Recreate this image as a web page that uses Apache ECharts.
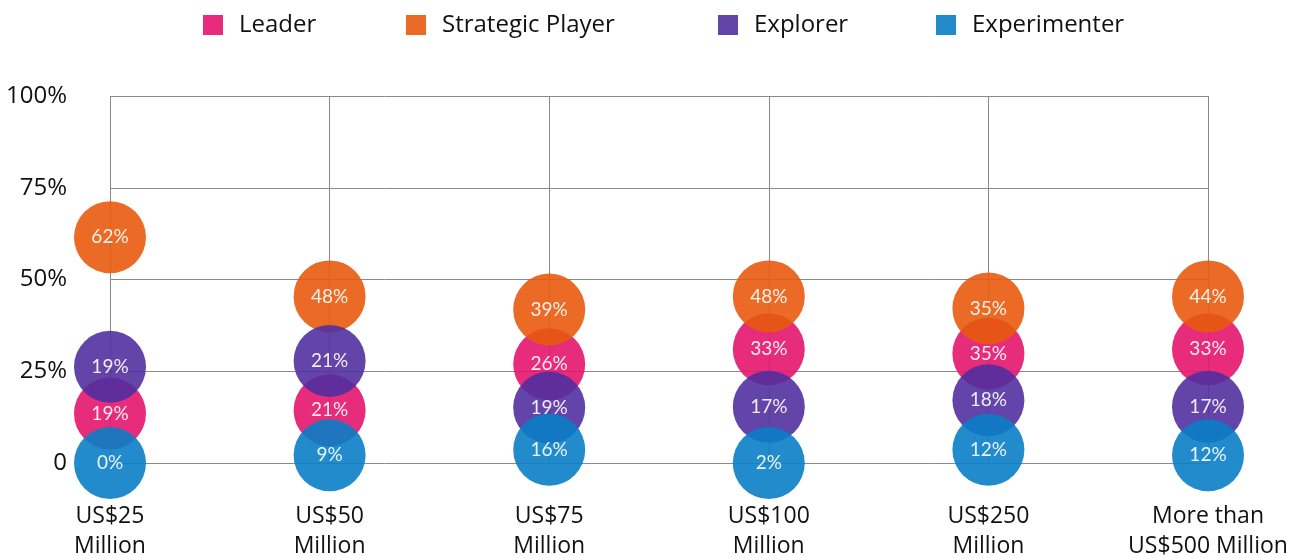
<!DOCTYPE html>
<html>
<head>
<meta charset="utf-8">
<script src="https://cdn.jsdelivr.net/npm/echarts@6/dist/echarts.min.js"></script>
<style>
  html, body { margin: 0; padding: 0; background: #fff; }
  #chart { width: 1303px; height: 559px; }
</style>
</head>
<body>
<div id="chart"></div>
<script>
// Categories (x axis)
const categories = ['US$25\nMillion', 'US$50\nMillion', 'US$75\nMillion', 'US$100\nMillion', 'US$250\nMillion', 'More than\nUS$500 Million'];
// Y-axis ticks
const yTicks = [0, 25, 50, 75, 100];
// Series names
const seriesNames = ['Leader', 'Strategic Player', 'Explorer', 'Experimenter'];
// Plotted vertical position of each bubble (in % of axis)
const leaderPos = [13.5, 14.4, 26.9, 31.0, 29.8, 31.0];
const strategicPos = [61.5, 45.4, 41.8, 45.4, 42.1, 45.4];
const explorerPos = [26.2, 27.8, 15.1, 15.3, 17.1, 15.3];
const experimenterPos = [0, 2.1, 3.6, 0, 3.6, 2.1];
// Percentage shown inside each bubble
const leaderPct = [19, 21, 26, 33, 35, 33];
const strategicPct = [62, 48, 39, 48, 35, 44];
const explorerPct = [19, 21, 19, 17, 18, 17];
const experimenterPct = [0, 9, 16, 2, 12, 12];

const colors = ['#E3156B', '#E85A0E', '#52309E', '#0A7EC6'];
const FONT = '"Open Sans", Lato, sans-serif';
const LFONT = 'Lato, "Open Sans", sans-serif';

const posArrays = [leaderPos, strategicPos, explorerPos, experimenterPos];
const pctArrays = [leaderPct, strategicPct, explorerPct, experimenterPct];

const chart = echarts.init(document.getElementById('chart'), null, { renderer: 'canvas' });

const legendLefts = [203, 406, 718, 936];
const legends = seriesNames.map((n, i) => ({
  data: [n],
  left: legendLefts[i],
  top: 13,
  padding: 0,
  icon: 'rect',
  itemWidth: 20,
  itemHeight: 20,
  itemGap: 0,
  textStyle: { fontFamily: FONT, fontSize: 24, fontWeight: 500, color: '#111', padding: [0, 0, 0, 11] },
  selectedMode: false
}));

const series = seriesNames.map((n, i) => ({
  name: n,
  type: 'scatter',
  symbol: 'circle',
  symbolSize: 72,
  clip: false,
  data: posArrays[i],
  itemStyle: { color: colors[i], opacity: 0.9 },
  label: {
    show: true,
    position: 'inside',
    color: '#fff',
    fontFamily: LFONT,
    fontSize: 19,
    formatter: p => pctArrays[i][p.dataIndex] + '%'
  },
  emphasis: { disabled: true },
  z: 2 + i
}));

chart.setOption({
  animation: false,
  color: colors,
  legend: legends,
  grid: { left: 110, right: 95, top: 96, bottom: 96, containLabel: false, outerBoundsMode: 'none' },
  xAxis: {
    type: 'category',
    data: categories,
    boundaryGap: false,
    axisLine: { show: false },
    axisTick: { show: false },
    splitLine: { show: true, lineStyle: { color: '#8a8a8a', width: 1 } },
    axisLabel: {
      interval: 0,
      fontFamily: FONT,
      fontSize: 23,
      fontWeight: 500,
      lineHeight: 30,
      color: '#111',
      margin: 38
    }
  },
  yAxis: {
    type: 'value',
    min: yTicks[0],
    max: yTicks[yTicks.length - 1],
    interval: 25,
    axisLine: { show: false },
    axisTick: { show: false },
    splitLine: { show: true, lineStyle: { color: '#8a8a8a', width: 1 } },
    axisLabel: {
      fontFamily: FONT,
      fontSize: 24,
      fontWeight: 500,
      color: '#111',
      margin: 43,
      formatter: v => v === 0 ? '0' : v + '%'
    }
  },
  series: series
});
</script>
</body>
</html>
